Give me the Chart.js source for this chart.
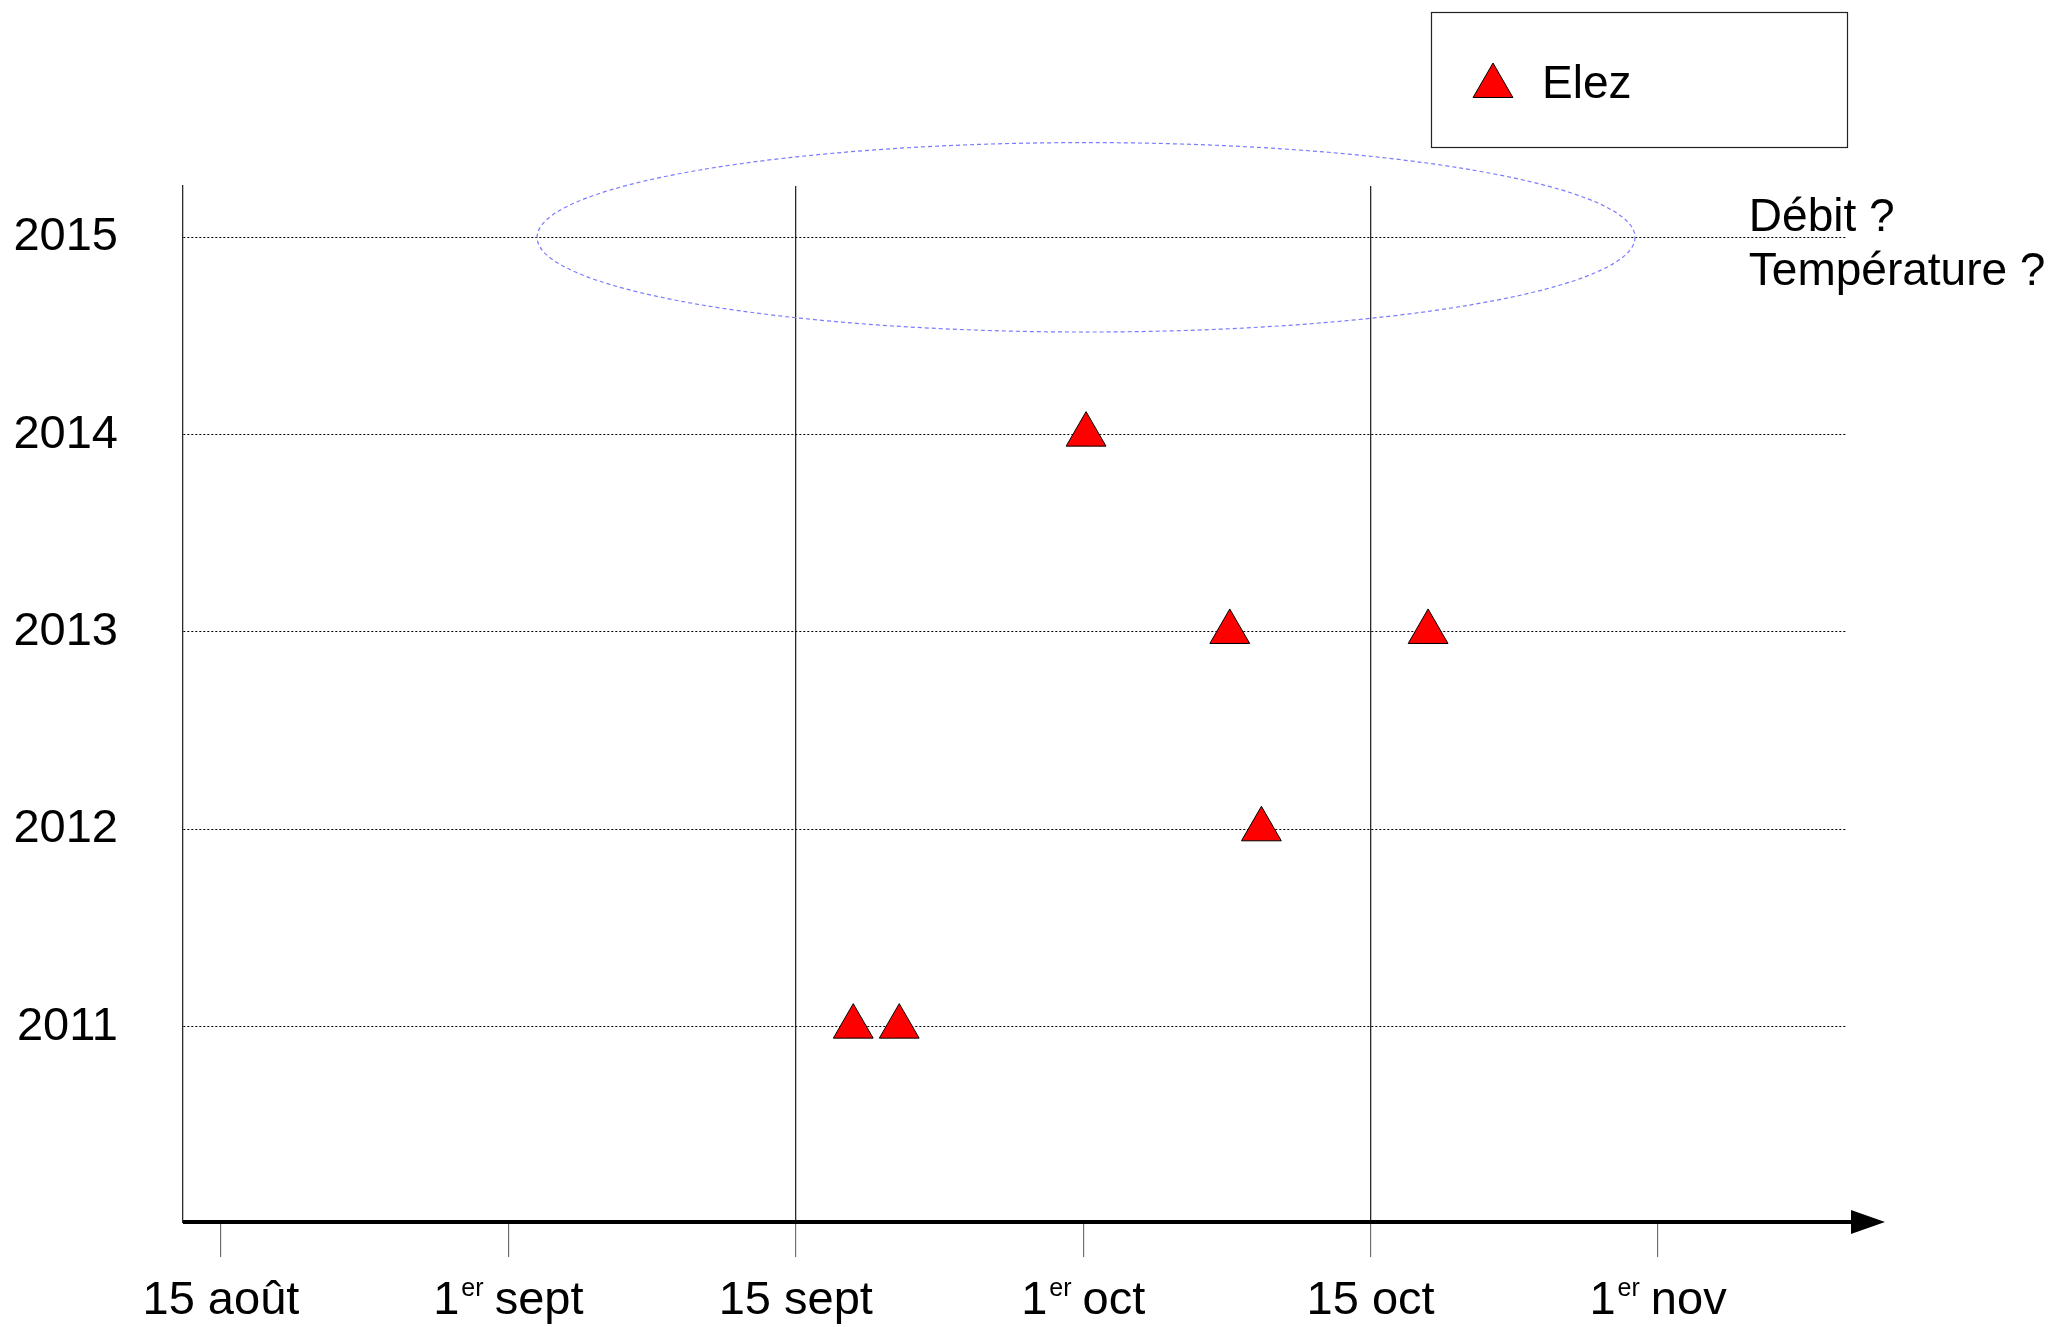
<!DOCTYPE html>
<html lang="fr">
<head>
<meta charset="utf-8">
<title>Elez</title>
<script src="https://cdn.jsdelivr.net/npm/chart.js@4.4.0/dist/chart.umd.min.js"></script>
<style>
  html, body { margin: 0; padding: 0; background: #fff; }
  canvas { display: block; }
</style>
</head>
<body>
<canvas id="chart" width="2063" height="1327"></canvas>
<script>
// --- données ---
const years = [2011, 2012, 2013, 2014, 2015];

// axe des x : une graduation par demi-mois (0 = 15 août, 1 = 1er sept, ...)
const xTickValues = [0, 1, 2, 3, 4, 5];
// ^...^ = exposant
const xTickLabels = ['15 août', '1^er^ sept', '15 sept', '1^er^ oct', '15 oct', '1^er^ nov'];
const xRefLines = [2, 4]; // traits verticaux pleins : 15 sept et 15 oct

const elezLabel = 'Elez';
const elezX = [2.20, 2.36, 3.62, 3.51, 4.20, 3.01];
const elezYears = [2011, 2011, 2012, 2013, 2013, 2014];

const notes = ['Débit ?', 'Température ?'];

// ellipse en pointillés autour de 2015 (unités des axes)
const ellipse = { x: 3.01, y: 2015, rx: 1.91, ry: 0.48 };

const FONT = '"Liberation Sans", Arial, sans-serif';
Chart.defaults.font.family = FONT;
Chart.defaults.color = '#000';

function drawTriangle(ctx, x, y, r) {
    ctx.beginPath();
    ctx.moveTo(x, y - r);
    ctx.lineTo(x + r * 0.866, y + r * 0.5);
    ctx.lineTo(x - r * 0.866, y + r * 0.5);
    ctx.closePath();
    ctx.fill();
    ctx.stroke();
}

const decor = {
    id: 'decor',
    afterDatasetsDraw(chart) {
        const { ctx, scales: { x, y } } = chart;
        const cx = x.getPixelForValue(ellipse.x);
        const cy = y.getPixelForValue(ellipse.y);
        const rx = x.getPixelForValue(ellipse.x + ellipse.rx) - cx;
        const ry = cy - y.getPixelForValue(ellipse.y + ellipse.ry);
        ctx.save();
        ctx.strokeStyle = '#7b7bff';
        ctx.lineWidth = 1.2;
        ctx.setLineDash([4, 3]);
        ctx.beginPath();
        ctx.ellipse(cx, cy, rx, ry, 0, 0, Math.PI * 2);
        ctx.stroke();
        ctx.restore();
    },
    afterDraw(chart) {
        const { ctx, chartArea, scales: { x, y } } = chart;
        const y0 = chartArea.bottom;
        ctx.save();

        // axe des x épais avec flèche
        ctx.strokeStyle = '#000';
        ctx.fillStyle = '#000';
        ctx.lineWidth = 4;
        ctx.beginPath();
        ctx.moveTo(chartArea.left, y0);
        ctx.lineTo(chartArea.right + 6, y0);
        ctx.stroke();
        ctx.beginPath();
        ctx.moveTo(chartArea.right + 5, y0 - 12);
        ctx.lineTo(chartArea.right + 39, y0);
        ctx.lineTo(chartArea.right + 5, y0 + 12);
        ctx.closePath();
        ctx.fill();

        // étiquettes de l'axe des x (avec exposants)
        const base = y0 + 92;
        const big = '47px ' + FONT, small = '25px ' + FONT;
        ctx.textBaseline = 'alphabetic';
        ctx.textAlign = 'left';
        xTickValues.forEach((v, i) => {
            const parts = xTickLabels[i].split('^');
            let w = 0;
            parts.forEach((p, k) => { ctx.font = k % 2 ? small : big; w += ctx.measureText(p).width; });
            let px = x.getPixelForValue(v) - w / 2;
            parts.forEach((p, k) => {
                ctx.font = k % 2 ? small : big;
                ctx.fillText(p, px + (k % 2 ? 2 : 0), k % 2 ? base - 18 : base);
                px += ctx.measureText(p).width;
            });
        });

        // notes à droite de 2015
        ctx.font = '46px ' + FONT;
        const ny = y.getPixelForValue(2015);
        const nx = x.getPixelForValue(5.316);
        notes.forEach((t, i) => ctx.fillText(t, nx, ny - 6 + i * 54));

        // légende encadrée
        const bx1 = 1431, bx2 = chartArea.right + 1, by1 = 12, by2 = 147;
        ctx.lineWidth = 1.2;
        ctx.strokeStyle = '#222';
        ctx.strokeRect(bx1 + 0.5, by1 + 0.5, bx2 - bx1, by2 - by1);
        const ds = chart.data.datasets[0];
        ctx.fillStyle = ds.backgroundColor;
        ctx.strokeStyle = ds.borderColor;
        ctx.lineWidth = 1;
        drawTriangle(ctx, bx1 + 62, 86, 23);
        ctx.fillStyle = '#000';
        ctx.font = '46px ' + FONT;
        ctx.fillText(ds.label, bx1 + 111, 98);

        ctx.restore();
    }
};

const ctx = document.getElementById('chart').getContext('2d');
const chart = new Chart(ctx, {
    type: 'scatter',
    data: {
        datasets: [{
            label: elezLabel,
            data: elezX.map((v, i) => ({ x: v, y: elezYears[i] })),
            pointStyle: 'triangle',
            pointRadius: 23,
            pointHoverRadius: 23,
            backgroundColor: '#ff0000',
            borderColor: '#000',
            borderWidth: 1
        }]
    },
    options: {
        responsive: false,
        animation: false,
        devicePixelRatio: 1,
        layout: { padding: { left: 0, top: 186, right: 217, bottom: 0 } },
        plugins: { legend: { display: false }, tooltip: { enabled: false } },
        scales: {
            x: {
                type: 'linear',
                min: -0.132,
                max: 5.654,
                afterBuildTicks: s => { s.ticks = xTickValues.map(v => ({ value: v })); },
                afterFit: s => { s.height = 105; },
                ticks: { display: false },
                grid: {
                    color: c => (c.tick && xRefLines.includes(c.tick.value)) ? '#2a2a2a' : 'rgba(0,0,0,0)',
                    lineWidth: 1.3,
                    drawTicks: true,
                    tickLength: 35,
                    tickColor: '#555',
                    tickWidth: 1
                },
                border: { display: false }
            },
            y: {
                type: 'linear',
                min: 2010.01,
                max: 2015.26,
                afterBuildTicks: s => { s.ticks = years.map(v => ({ value: v })); },
                afterFit: s => { s.width = 183; },
                ticks: { font: { size: 47 }, color: '#000', padding: 65, callback: v => String(v) },
                grid: { color: '#000', lineWidth: 1, drawTicks: false },
                border: { display: true, color: '#2a2a2a', width: 1.3, dash: [2, 2] }
            }
        }
    },
    plugins: [decor]
});
</script>
</body>
</html>
